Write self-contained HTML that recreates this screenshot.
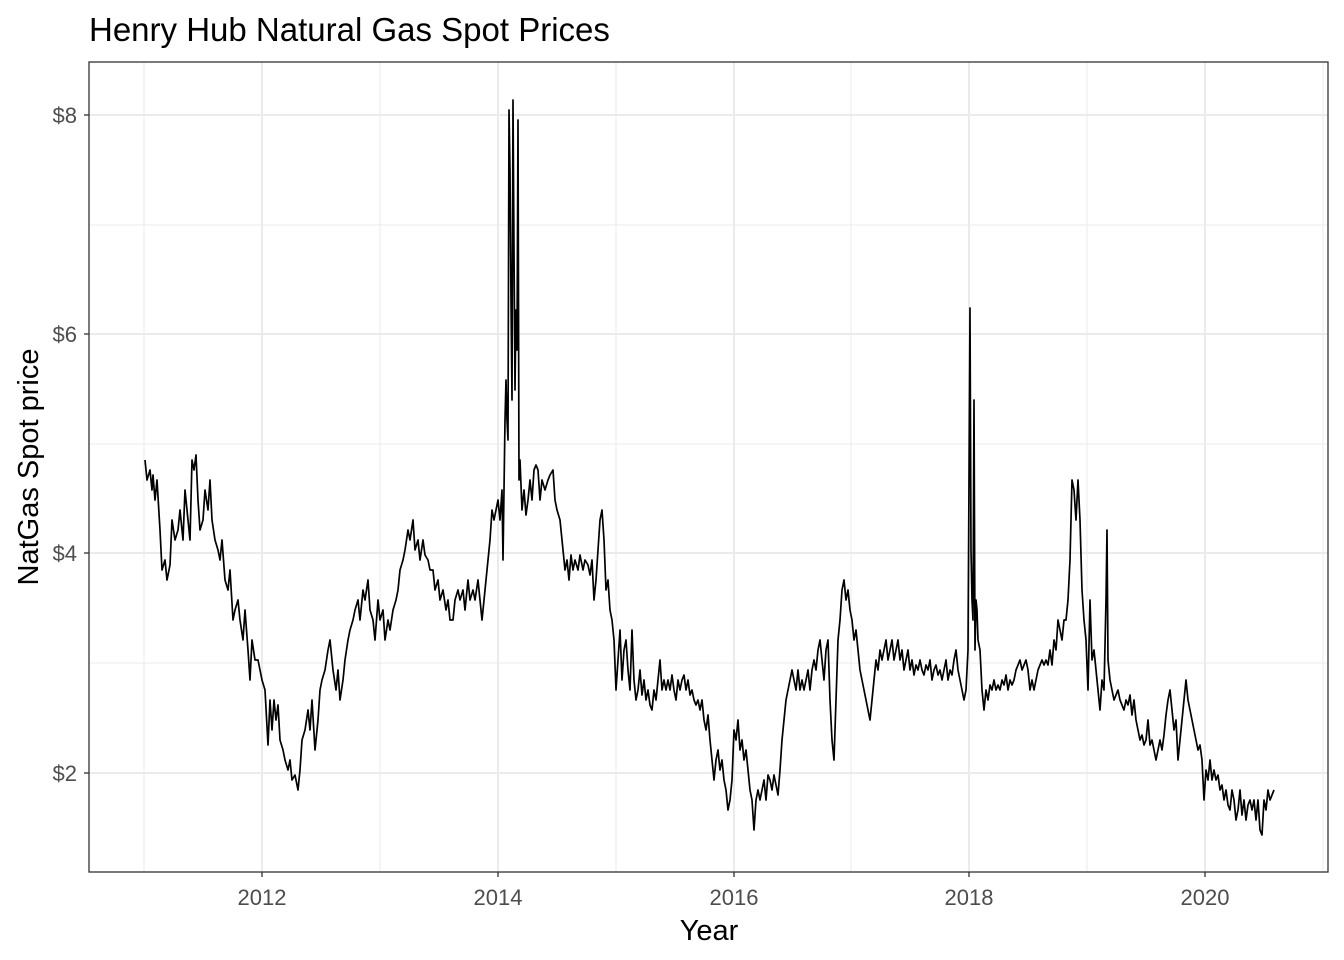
<!DOCTYPE html>
<html><head><meta charset="utf-8"><style>
body{margin:0;background:#fff;}
svg{display:block;font-family:"Liberation Sans",Arial,sans-serif;}
</style></head><body>
<svg width="1344" height="960" viewBox="0 0 1344 960">
<rect width="1344" height="960" fill="#fff"/>
<g stroke="#ebebeb" stroke-width="1">
<line x1="89" x2="1328" y1="663" y2="663"/><line x1="89" x2="1328" y1="444" y2="444"/><line x1="89" x2="1328" y1="225" y2="225"/>
<line x1="144" x2="144" y1="62" y2="872"/><line x1="380" x2="380" y1="62" y2="872"/><line x1="616" x2="616" y1="62" y2="872"/><line x1="851" x2="851" y1="62" y2="872"/><line x1="1087" x2="1087" y1="62" y2="872"/><line x1="1323" x2="1323" y1="62" y2="872"/>
</g>
<g stroke="#ebebeb" stroke-width="2">
<line x1="89" x2="1328" y1="773" y2="773"/><line x1="89" x2="1328" y1="553" y2="553"/><line x1="89" x2="1328" y1="334" y2="334"/><line x1="89" x2="1328" y1="115" y2="115"/>
<line x1="262" x2="262" y1="62" y2="872"/><line x1="498" x2="498" y1="62" y2="872"/><line x1="734" x2="734" y1="62" y2="872"/><line x1="969" x2="969" y1="62" y2="872"/><line x1="1205" x2="1205" y1="62" y2="872"/>
</g>
<polyline fill="none" stroke="#000" stroke-width="1.7" stroke-linejoin="round" points="145,460 147,480 150,470 152,490 153,475 155,500 157,480 160,530 162,570 165,560 167,580 170,565 172,520 175,540 178,530 180,510 183,540 185,490 188,520 190,540 192,460 194,470 196,455 198,500 200,530 203,520 205,490 208,510 210,480 212,520 215,540 218,550 220,560 222,540 225,580 228,590 230,570 233,620 235,610 238,600 240,620 243,640 245,610 248,650 250,680 252,640 255,660 258,660 260,670 262,680 265,690 268,745 270,700 272,730 274,700 276,720 278,705 280,740 283,750 285,760 288,770 290,760 292,780 295,775 298,790 300,770 302,740 305,730 308,710 310,730 312,700 315,750 318,720 320,690 322,680 325,670 328,650 330,640 333,670 336,690 338,670 340,700 343,680 345,660 348,640 350,630 353,620 355,610 358,600 360,620 363,590 365,600 368,580 370,610 373,620 375,640 378,600 380,620 383,610 385,640 388,620 390,630 393,610 396,600 398,590 400,570 403,560 405,550 408,530 410,540 413,520 415,550 418,540 420,560 423,540 425,555 428,560 430,570 433,570 435,590 438,580 440,600 443,590 446,610 448,600 450,620 453,620 455,600 458,590 460,600 463,590 465,610 468,580 470,600 473,590 475,600 478,580 480,600 482,620 485,590 488,560 490,540 492,510 494,520 496,510 498,500 500,520 502,490 503,560 505,420 506,380 507,420 508,440 509,110 510,170 511,300 512,400 513,100 514,250 515,390 516,310 517,350 518,120 519,480 520,460 522,510 524,490 526,515 528,500 530,480 532,500 534,470 536,465 538,470 540,500 542,480 545,490 548,480 550,475 553,470 555,500 557,510 560,520 562,540 565,570 567,560 569,580 571,555 573,570 575,560 578,570 580,555 583,570 585,560 588,565 590,575 592,560 594,600 596,580 598,550 600,520 602,510 604,540 606,590 608,580 610,610 612,620 614,640 616,690 618,660 620,630 622,680 624,650 626,640 628,670 630,690 632,630 634,680 636,700 638,690 640,670 642,695 644,680 646,700 648,690 650,705 652,710 654,690 656,700 658,680 660,660 662,690 664,680 666,690 668,680 670,690 672,675 674,690 676,700 678,680 680,690 682,680 684,675 686,690 688,680 690,695 692,690 694,700 696,705 698,700 700,710 702,700 704,720 706,730 708,715 710,740 712,760 714,780 716,760 718,750 720,770 722,760 724,780 726,790 728,810 730,800 732,780 734,730 736,740 738,720 740,750 742,740 744,760 746,750 748,770 750,790 752,800 754,830 756,800 758,790 760,800 762,790 764,780 766,800 768,775 770,780 772,790 774,775 776,785 778,795 780,770 782,740 784,720 786,700 788,690 790,680 792,670 794,680 796,690 798,670 800,690 802,680 804,690 806,680 808,670 810,690 812,670 814,660 816,670 818,650 820,640 822,660 824,680 826,650 828,640 830,700 832,740 834,760 836,700 838,640 840,620 842,590 844,580 846,600 848,590 850,610 852,620 854,640 856,630 858,650 860,670 862,680 864,690 866,700 868,710 870,720 872,700 874,680 876,660 878,670 880,650 882,660 884,650 886,640 888,660 890,650 892,640 894,660 896,650 898,640 900,660 902,650 904,670 906,660 908,650 910,670 912,660 914,675 916,665 918,670 920,660 922,670 924,675 926,665 928,670 930,660 932,680 934,670 936,665 938,675 940,670 942,680 944,670 946,660 948,680 950,670 952,675 954,660 956,650 958,670 960,680 962,690 964,700 966,690 968,650 969,480 970,308 971,550 972,600 973,620 974,400 975,650 976,600 977,610 978,640 980,650 982,690 984,710 986,690 988,700 990,685 992,690 994,680 996,690 998,685 1000,690 1002,680 1004,685 1006,675 1008,690 1010,680 1012,685 1014,680 1016,670 1018,665 1020,660 1022,670 1024,665 1026,660 1028,670 1030,690 1032,680 1034,690 1036,680 1038,670 1040,665 1042,660 1044,665 1046,660 1048,665 1050,650 1052,665 1054,640 1056,650 1058,620 1060,630 1062,640 1064,620 1066,620 1068,600 1070,560 1072,480 1074,490 1076,520 1078,480 1080,520 1082,590 1084,620 1086,640 1088,690 1090,600 1092,660 1094,650 1096,670 1098,690 1100,710 1102,680 1104,690 1106,600 1107,530 1108,660 1110,680 1112,690 1114,700 1116,695 1118,690 1120,700 1122,705 1124,710 1126,700 1128,705 1130,695 1132,715 1134,700 1136,720 1138,730 1140,740 1142,735 1144,745 1146,740 1148,720 1150,745 1152,740 1154,750 1156,760 1158,750 1160,740 1162,750 1164,735 1166,715 1168,700 1170,690 1172,710 1174,730 1176,720 1178,760 1180,740 1182,720 1184,700 1186,680 1188,700 1190,710 1192,720 1194,730 1196,740 1198,750 1200,745 1202,760 1204,800 1206,770 1208,780 1210,760 1212,780 1214,770 1216,780 1218,775 1220,790 1222,785 1224,800 1226,790 1228,805 1230,810 1232,790 1234,800 1236,820 1238,810 1240,790 1242,815 1244,800 1246,820 1248,805 1250,800 1252,810 1254,800 1256,820 1258,800 1260,830 1262,835 1264,800 1266,810 1268,790 1270,800 1272,795 1274,790"/>
<rect x="89" y="62" width="1239" height="810" fill="none" stroke="#333" stroke-width="1.3"/>
<g stroke="#333" stroke-width="1.3">
<line x1="84" x2="89" y1="773" y2="773"/><line x1="84" x2="89" y1="553" y2="553"/><line x1="84" x2="89" y1="334" y2="334"/><line x1="84" x2="89" y1="115" y2="115"/>
<line x1="262" x2="262" y1="872" y2="877"/><line x1="498" x2="498" y1="872" y2="877"/><line x1="734" x2="734" y1="872" y2="877"/><line x1="969" x2="969" y1="872" y2="877"/><line x1="1205" x2="1205" y1="872" y2="877"/>
</g>
<g fill="#4d4d4d" font-size="22" text-anchor="end">
<text x="77" y="781">$2</text><text x="77" y="561">$4</text><text x="77" y="342">$6</text><text x="77" y="123">$8</text>
</g>
<g fill="#4d4d4d" font-size="22" text-anchor="middle">
<text x="262" y="905">2012</text><text x="498" y="905">2014</text><text x="734" y="905">2016</text><text x="969" y="905">2018</text><text x="1205" y="905">2020</text>
</g>
<text x="709" y="940" font-size="29" text-anchor="middle" fill="#000">Year</text>
<text transform="translate(38,467) rotate(-90)" font-size="29" text-anchor="middle" fill="#000">NatGas Spot price</text>
<text x="89" y="41" font-size="33" fill="#000">Henry Hub Natural Gas Spot Prices</text>
</svg>
</body></html>
